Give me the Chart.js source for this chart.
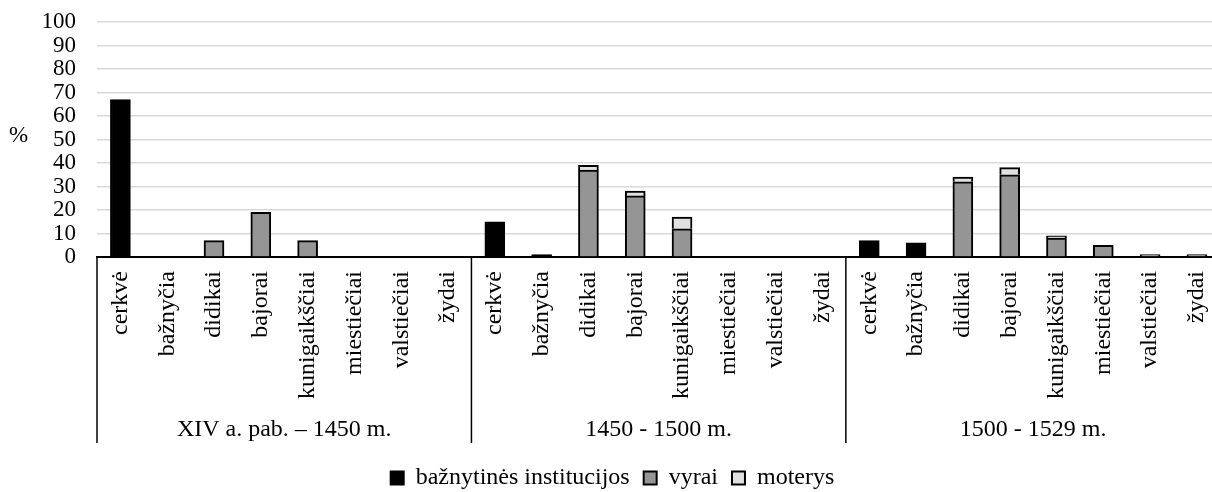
<!DOCTYPE html>
<html>
<head>
<meta charset="utf-8">
<script src="https://cdn.jsdelivr.net/npm/chart.js@4/dist/chart.umd.min.js"></script>
<style>
html,body{margin:0;padding:0;background:#fff;overflow:hidden;width:1212px;height:492px}
#wrap{position:relative;width:1240px;height:500px}
canvas{display:block}
</style>
</head>
<body>
<div id="wrap"><canvas id="c" width="1240" height="500"></canvas></div>
<script>
// ---- data ----
const periods = ['XIV a. pab. – 1450 m.', '1450 - 1500 m.', '1500 - 1529 m.'];
const groups = ['cerkvė', 'bažnyčia', 'didikai', 'bajorai', 'kunigaikščiai', 'miestiečiai', 'valstiečiai', 'žydai'];
const seriesNames = ['bažnytinės institucijos', 'vyrai', 'moterys'];
const baznytines = [67, 0, 0, 0, 0, 0, 0, 0,   15, 1, 0, 0, 0, 0, 0, 0,   7, 6, 0, 0, 0, 0, 0, 0];
const vyrai      = [0, 0, 7, 19, 7, 0, 0, 0,   0, 0, 37, 26, 12, 0, 0, 0,  0, 0, 32, 35, 8, 5, 1, 1];
const moterys    = [0, 0, 0, 0, 0, 0, 0, 0,    0, 0, 2, 2, 5, 0, 0, 0,     0, 0, 2, 3, 1, 0, 0, 0];
const yTicks = [0, 10, 20, 30, 40, 50, 60, 70, 80, 90, 100];
const yTitle = '%';

const labels = periods.flatMap(() => groups);
const FONT = "'Liberation Serif', 'Times New Roman', serif";
const FS = 24;
const YFS = 23;
const LEG_PAD = 14;
const CANVAS_H = 500;
const AREA_TOP = 22, AREA_BOTTOM = 257, AREA_LEFT = 97;

Chart.defaults.font.family = FONT;
Chart.defaults.color = '#000';

const extras = {
  id: 'extras',
  afterDraw(chart) {
    const {ctx, chartArea, scales: {x}} = chart;
    const n = groups.length;
    const half = (x.getPixelForValue(1) - x.getPixelForValue(0)) / 2;
    ctx.save();
    ctx.strokeStyle = '#000';
    ctx.lineWidth = 1.5;
    for (let g = 0; g <= periods.length; g++) {
      const idx = Math.min(g * n, labels.length - 1);
      const px = g * n < labels.length ? x.getPixelForValue(idx) - half : x.getPixelForValue(idx) + half;
      ctx.beginPath();
      ctx.moveTo(px, chartArea.bottom);
      ctx.lineTo(px, 443);
      ctx.stroke();
    }
    ctx.fillStyle = '#000';
    ctx.font = FS + 'px ' + FONT;
    ctx.textAlign = 'center';
    ctx.textBaseline = 'middle';
    periods.forEach((p, g) => {
      const c = (x.getPixelForValue(g * n) + x.getPixelForValue(g * n + n - 1)) / 2;
      ctx.fillText(p, c, 430);
    });
    ctx.font = YFS + 'px ' + FONT;
    ctx.fillText(yTitle, 18.5, 136);
    ctx.restore();
  }
};

new Chart(document.getElementById('c'), {
  type: 'bar',
  data: {
    labels,
    datasets: [
      {label: seriesNames[0], data: baznytines, backgroundColor: '#000000', borderColor: '#000', borderWidth: 2},
      {label: seriesNames[1], data: vyrai, backgroundColor: '#959595', borderColor: '#000', borderWidth: 2},
      {label: seriesNames[2], data: moterys, backgroundColor: '#e0e0e0', borderColor: '#000', borderWidth: 2}
    ]
  },
  options: {
    responsive: false,
    animation: false,
    devicePixelRatio: 1,
    barThickness: 20,
    layout: {padding: {top: AREA_TOP, right: 15, bottom: 0, left: 0}},
    plugins: {
      tooltip: {enabled: false},
      legend: {
        position: 'bottom',
        labels: {font: {size: FS, family: FONT}, boxWidth: 13, boxHeight: 13, padding: LEG_PAD, color: '#000'}
      }
    },
    scales: {
      x: {
        stacked: true,
        grid: {display: false, drawTicks: false},
        border: {display: true, color: '#000', width: 2},
        ticks: {autoSkip: false, maxRotation: 90, minRotation: 90, padding: 14, font: {size: FS}, color: '#000'},
        afterFit(scale) { scale.height = CANVAS_H - (FS + LEG_PAD + 10) - AREA_BOTTOM; }
      },
      y: {
        stacked: true,
        min: 0, max: 100,
        afterBuildTicks(scale) { scale.ticks = yTicks.map(v => ({value: v})); },
        grid: {color: '#d9d9d9', lineWidth: 1.5, drawTicks: true, tickLength: 21, tickColor: 'rgba(0,0,0,0)'},
        border: {display: false},
        ticks: {autoSkip: false, padding: 0, font: {size: YFS}, color: '#000'},
        afterFit(scale) { scale.width = AREA_LEFT; }
      }
    }
  },
  plugins: [extras]
});
</script>
</body>
</html>
